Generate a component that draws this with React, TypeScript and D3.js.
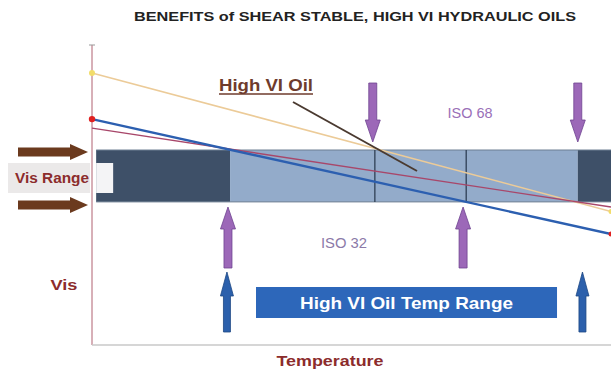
import React from "react";
import * as d3 from "d3";

// ---- data (conceptual temperature / viscosity diagram) ----
const title = "BENEFITS of SHEAR STABLE, HIGH VI HYDRAULIC OILS";
const tempDomain = [0, 100];
const visDomain = [0, 100];
// viscosity–temperature lines [temp, vis]
const conventionalOil: [number, number][] = [[0, 90.7], [100, 44.5]];
const highVIOil: [number, number][] = [[0, 72.3], [100, 46]];
const shearedOil: [number, number][] = [[0, 75.3], [100, 37]];
// allowable viscosity band
const visRange = [65, 47.7];
const bandSegments = [
  { from: 0.8, to: 26.6, tone: "dark" },
  { from: 26.6, to: 93.6, tone: "light" },
  { from: 93.6, to: 100, tone: "dark" },
];
const isoMarkers = [54.5, 72.1];
const iso68Arrows = [54.1, 93.6];
const iso32Arrows = [26.2, 71.5];
const tempRangeArrows = [26.0, 94.5];
const tempRangeBox = [31.6, 89.6];
const labels = { iso68: "ISO 68", iso32: "ISO 32", highVI: "High VI Oil", tempRange: "High VI Oil Temp Range", visRange: "Vis Range", vis: "Vis", temp: "Temperature" };

const W = 611, H = 374;
const x = d3.scaleLinear().domain(tempDomain).range([92, 611]);
const y = d3.scaleLinear().domain(visDomain).range([345, 45]);
const line = d3.line<[number, number]>().x(d => x(d[0])).y(d => y(d[1]));

function vArrow(cx: number, tip: number, tail: number, shaft: number, head: number, headLen: number) {
  const dir = tail > tip ? 1 : -1; // 1: arrow points up
  const hb = tip + dir * headLen;
  const s = shaft / 2, h = head / 2;
  return `M${cx - s},${tail} L${cx - s},${hb} L${cx - h},${hb} L${cx},${tip} L${cx + h},${hb} L${cx + s},${hb} L${cx + s},${tail} Z`;
}
function hArrow(x0: number, x1: number, cy: number, shaft: number, head: number, headLen: number) {
  const hb = x1 - headLen, s = shaft / 2, h = head / 2;
  return `M${x0},${cy - s} L${hb},${cy - s} L${hb},${cy - h} L${x1},${cy} L${hb},${cy + h} L${hb},${cy + s} L${x0},${cy + s} Z`;
}

export default function App() {
  const bandTop = y(visRange[0]);
  const bandBot = y(visRange[1]);
  const font = "'Liberation Sans', Arial, sans-serif";
  return (
    <svg width={W} height={H} style={{ position: "fixed", left: 0, top: 0, background: "#fff" }} fontFamily={font}>
      <text x={355} y={21} textAnchor="middle" fontSize={13} fontWeight="bold" fill="#222" textLength={442} lengthAdjust="spacingAndGlyphs">{title}</text>

      {/* axes */}
      <line x1={x(0)} x2={x(0)} y1={y(100)} y2={y(0)} stroke="#b06070" strokeWidth={1} />
      <line x1={x(0) - 3} x2={x(0) + 3} y1={y(100)} y2={y(100)} stroke="#999" strokeWidth={1} />
      <line x1={x(0)} x2={x(100)} y1={y(0)} y2={y(0)} stroke="#c8c8c8" strokeWidth={1.5} />

      {/* band */}
      {bandSegments.map((b, i) => (
        <rect key={i} x={x(b.from)} y={bandTop} width={x(b.to) - x(b.from)} height={bandBot - bandTop}
          fill={b.tone === "dark" ? "#3e5068" : "#93abca"} />
      ))}
      <line x1={x(bandSegments[0].from)} x2={W} y1={bandTop} y2={bandTop} stroke="#6d7e92" strokeWidth={1} />
      <line x1={x(bandSegments[0].from)} x2={W} y1={bandBot} y2={bandBot} stroke="#6d7e92" strokeWidth={1} />
      <rect x={x(bandSegments[0].from)} y={163} width={17} height={30} fill="#f4f4f6" />
      {isoMarkers.map((t, i) => (
        <line key={i} x1={x(t)} x2={x(t)} y1={bandTop} y2={bandBot} stroke="#2f3f55" strokeWidth={1.3} />
      ))}

      {/* oil lines */}
      <path d={line(conventionalOil)!} stroke="#eccb98" strokeWidth={1.6} fill="none" />
      <path d={line(highVIOil)!} stroke="#a8476a" strokeWidth={1.4} fill="none" />
      <path d={line(shearedOil)!} stroke="#2c5fb0" strokeWidth={2.4} fill="none" />
      <circle cx={x(0)} cy={y(conventionalOil[0][1])} r={3} fill="#f2dc6a" />
      <circle cx={x(0)} cy={y(shearedOil[0][1])} r={3.2} fill="#e02020" />
      <circle cx={x(100)} cy={y(conventionalOil[1][1])} r={2.5} fill="#f2dc6a" />
      <circle cx={x(100)} cy={y(shearedOil[1][1])} r={2.5} fill="#e02020" />

      {/* High VI Oil label + pointer */}
      <text x={219} y={91} fontSize={17} fontWeight="bold" fill="#6e3b2c" textLength={94} lengthAdjust="spacingAndGlyphs">{labels.highVI}</text>
      <line x1={219} x2={313} y1={94} y2={94} stroke="#6e3b2c" strokeWidth={1.3} />
      <line x1={293} y1={102} x2={417} y2={171} stroke="#4a3a30" strokeWidth={2} />

      {/* ISO labels */}
      <text x={470} y={118} textAnchor="middle" fontSize={14} fill="#9a6fb8" textLength={45} lengthAdjust="spacingAndGlyphs">{labels.iso68}</text>
      <text x={344} y={248} textAnchor="middle" fontSize={14} fill="#8c7aa8" textLength={46} lengthAdjust="spacingAndGlyphs">{labels.iso32}</text>

      {/* purple arrows */}
      {iso68Arrows.map((t, i) => (
        <path key={i} d={vArrow(x(t), 142, 83, 8, 15, 22)} fill="#9c68b8" stroke="#6e4490" strokeWidth={0.8} />
      ))}
      {iso32Arrows.map((t, i) => (
        <path key={i} d={vArrow(x(t), 207, 268, 8, 15, 22)} fill="#9c68b8" stroke="#6e4490" strokeWidth={0.8} />
      ))}
      {/* blue arrows */}
      {tempRangeArrows.map((t, i) => (
        <path key={i} d={vArrow(x(t), 272, 332, 7, 13, 24)} fill="#2c60ac" stroke="#1d4784" strokeWidth={0.8} />
      ))}

      {/* temp range box */}
      <rect x={x(tempRangeBox[0])} y={287} width={x(tempRangeBox[1]) - x(tempRangeBox[0])} height={31} fill="#2d67ba" />
      <text x={(x(tempRangeBox[0]) + x(tempRangeBox[1])) / 2} y={308.5} textAnchor="middle" fontSize={17} fontWeight="bold" fill="#fff" textLength={213} lengthAdjust="spacingAndGlyphs">{labels.tempRange}</text>

      {/* vis range */}
      <path d={hArrow(18, 88, 152, 9, 16, 18)} fill="#6b3a1e" />
      <path d={hArrow(18, 88, 205, 9, 16, 18)} fill="#6b3a1e" />
      <rect x={8} y={163} width={82} height={30} fill="#ebe9e9" />
      <text x={52} y={183} textAnchor="middle" fontSize={14} fontWeight="bold" fill="#8c2c2c" textLength={74} lengthAdjust="spacingAndGlyphs">{labels.visRange}</text>

      <text x={64} y={290} textAnchor="middle" fontSize={15} fontWeight="bold" fill="#8c2c2c" textLength={27} lengthAdjust="spacingAndGlyphs">{labels.vis}</text>
      <text x={330} y={366} textAnchor="middle" fontSize={15} fontWeight="bold" fill="#8c2c2c" textLength={107} lengthAdjust="spacingAndGlyphs">{labels.temp}</text>
    </svg>
  );
}
